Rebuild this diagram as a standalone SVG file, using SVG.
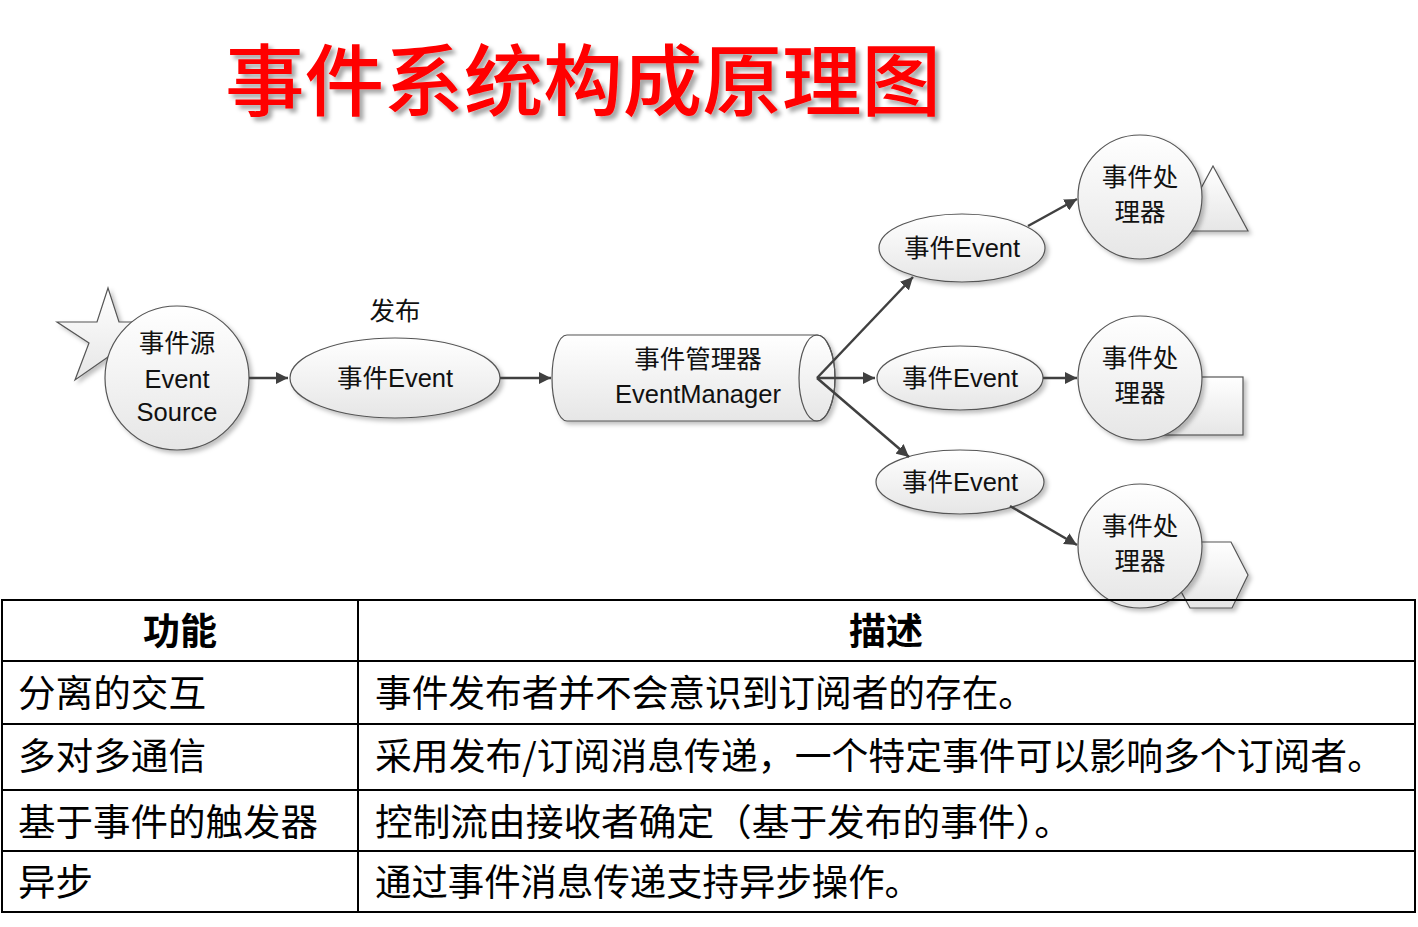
<svg xmlns="http://www.w3.org/2000/svg" width="1418" height="927" viewBox="0 0 1418 927">
<defs>
<style>
.shape{fill:url(#g);stroke:#555;stroke-width:1.2;filter:url(#sh)}
.lbl{font-family:"Liberation Sans","Noto Sans CJK SC",sans-serif;font-size:25.5px;fill:#111;text-anchor:middle}
.conn{stroke:#404040;stroke-width:2.5;fill:none;marker-end:url(#ah)}
.cell{font-family:"Noto Sans CJK SC",sans-serif;font-size:37px;fill:#000}
.grid{stroke:#000;stroke-width:2;fill:none}
</style>
<linearGradient id="g" x1="0" y1="0" x2="0" y2="1">
<stop offset="0" stop-color="#ffffff"/>
<stop offset="1" stop-color="#e6e6e6"/>
</linearGradient>
<filter id="sh" x="-20%" y="-20%" width="150%" height="150%">
<feDropShadow dx="3" dy="3" stdDeviation="2" flood-color="#000" flood-opacity="0.25"/>
</filter>
<filter id="tsh" x="-5%" y="-20%" width="110%" height="150%">
<feDropShadow dx="4" dy="4" stdDeviation="2" flood-color="#000" flood-opacity="0.35"/>
</filter>
<marker id="ah" viewBox="0 0 10 10" refX="10" refY="5" markerWidth="5" markerHeight="5" orient="auto" markerUnits="strokeWidth">
<path d="M0,0 L10,5 L0,10 Z" fill="#404040"/>
</marker>
</defs>
<rect width="1418" height="927" fill="#fff"/>
<text x="583" y="110" font-family="Noto Sans CJK SC,sans-serif" font-size="78" font-weight="500" fill="#f00" text-anchor="middle" textLength="716" lengthAdjust="spacingAndGlyphs" filter="url(#tsh)">事件系统构成原理图</text>

<g id="source">
<polygon class="shape" points="57,322 97,322 108,288 119,322 159,322 127,343 139,378 108,357 75,380 89,343"/>
<circle class="shape" cx="177" cy="378" r="72"/>
<text class="lbl" x="177" y="352">事件源</text>
<text class="lbl" x="177" y="388">Event</text>
<text class="lbl" x="177" y="421">Source</text>
</g>

<g id="publish-event">
<text class="lbl" x="395" y="320">发布</text>
<ellipse class="shape" cx="395" cy="378" rx="105" ry="40"/>
<text class="lbl" x="395" y="387">事件Event</text>
</g>

<g id="manager">
<path class="shape" d="M567,335 L817,335 A18,43 0 0 1 817,421 L567,421 A15,43 0 0 1 567,335 Z"/>
<ellipse cx="817" cy="378" rx="18" ry="43" fill="none" stroke="#555" stroke-width="1.2"/>
<text class="lbl" x="698" y="368">事件管理器</text>
<text class="lbl" x="698" y="403">EventManager</text>
</g>

<g id="event1">
<ellipse class="shape" cx="962" cy="248" rx="83" ry="34"/>
<text class="lbl" x="962" y="257">事件Event</text>
</g>
<g id="event2">
<ellipse class="shape" cx="960" cy="378" rx="83" ry="32"/>
<text class="lbl" x="960" y="387">事件Event</text>
</g>
<g id="event3">
<ellipse class="shape" cx="960" cy="482" rx="84" ry="32"/>
<text class="lbl" x="960" y="491">事件Event</text>
</g>

<g id="handler1">
<polygon class="shape" points="1213,166 1248,231 1178,231"/>
<circle class="shape" cx="1140" cy="197" r="62"/>
<text class="lbl" x="1140" y="186">事件处</text>
<text class="lbl" x="1140" y="221">理器</text>
</g>
<g id="handler2">
<rect class="shape" x="1160" y="377" width="83" height="58"/>
<circle class="shape" cx="1140" cy="378" r="62"/>
<text class="lbl" x="1140" y="367">事件处</text>
<text class="lbl" x="1140" y="402">理器</text>
</g>
<g id="handler3">
<polygon class="shape" points="1193,542 1231,542 1248,575 1232,608 1190,608 1172,575"/>
<circle class="shape" cx="1140" cy="546" r="62"/>
<text class="lbl" x="1140" y="535">事件处</text>
<text class="lbl" x="1140" y="570">理器</text>
</g>

<g id="connectors">
<line class="conn" x1="249" y1="378" x2="288" y2="378"/>
<line class="conn" x1="500" y1="378" x2="551" y2="378"/>
<line class="conn" x1="817" y1="378" x2="913" y2="277"/>
<line class="conn" x1="817" y1="378" x2="875" y2="378"/>
<line class="conn" x1="817" y1="378" x2="909" y2="457"/>
<line class="conn" x1="1028" y1="226" x2="1077" y2="199"/>
<line class="conn" x1="1043" y1="378" x2="1077" y2="378"/>
<line class="conn" x1="1010" y1="506" x2="1077" y2="545"/>
</g>

<g id="table">
<rect class="grid" x="2" y="600" width="1413" height="312" fill="#fff"/>
<line class="grid" x1="358" y1="600" x2="358" y2="912"/>
<line class="grid" x1="2" y1="661" x2="1415" y2="661"/>
<line class="grid" x1="2" y1="724" x2="1415" y2="724"/>
<line class="grid" x1="2" y1="790" x2="1415" y2="790"/>
<line class="grid" x1="2" y1="851" x2="1415" y2="851"/>
<text class="cell" x="180" y="645" text-anchor="middle" font-weight="bold">功能</text>
<text class="cell" x="886" y="645" text-anchor="middle" font-weight="bold">描述</text>
<text class="cell" x="18" y="707" textLength="188" lengthAdjust="spacingAndGlyphs">分离的交互</text>
<text class="cell" x="375" y="707" textLength="660" lengthAdjust="spacingAndGlyphs">事件发布者并不会意识到订阅者的存在。</text>
<text class="cell" x="18" y="770" textLength="188" lengthAdjust="spacingAndGlyphs">多对多通信</text>
<text class="cell" x="375" y="770" textLength="1009" lengthAdjust="spacingAndGlyphs">采用发布/订阅消息传递，一个特定事件可以影响多个订阅者。</text>
<text class="cell" x="18" y="836" textLength="300" lengthAdjust="spacingAndGlyphs">基于事件的触发器</text>
<text class="cell" x="375" y="836" textLength="697" lengthAdjust="spacingAndGlyphs">控制流由接收者确定（基于发布的事件）。</text>
<text class="cell" x="18" y="896" textLength="75" lengthAdjust="spacingAndGlyphs">异步</text>
<text class="cell" x="375" y="896" textLength="546" lengthAdjust="spacingAndGlyphs">通过事件消息传递支持异步操作。</text>
</g>
</svg>
